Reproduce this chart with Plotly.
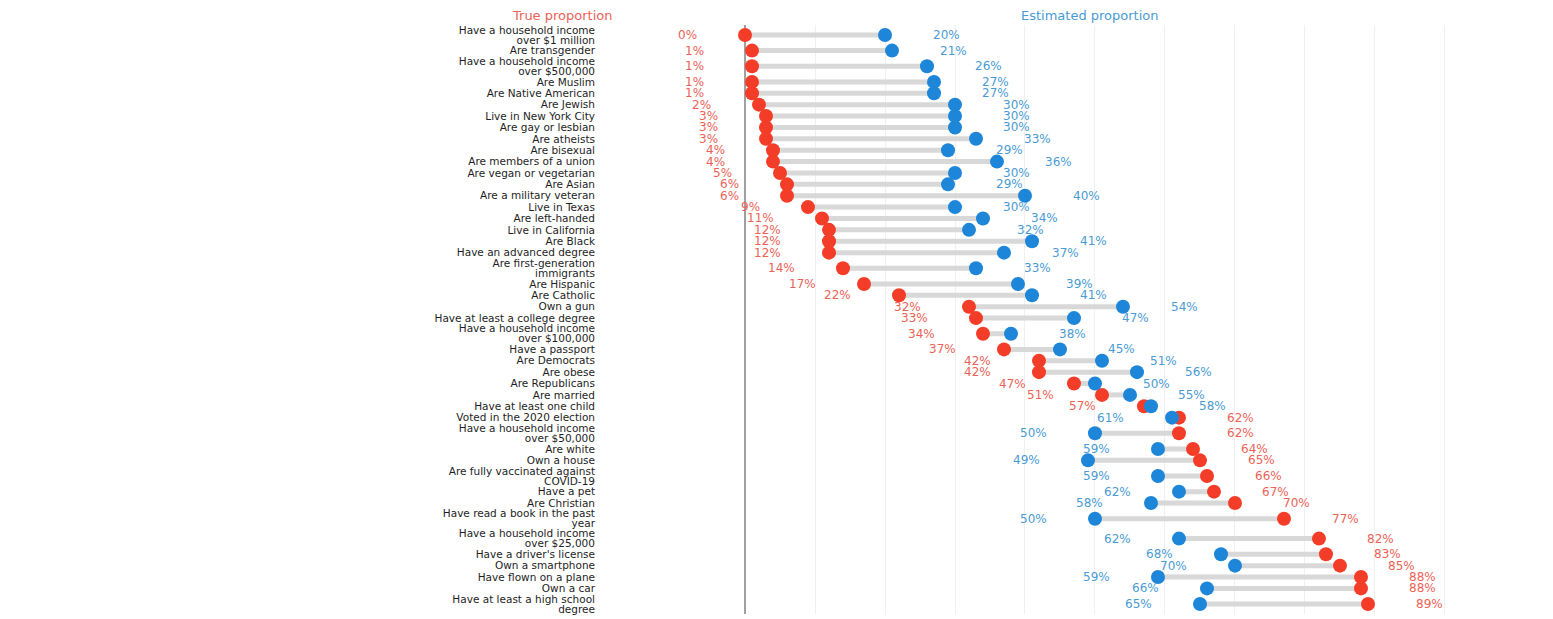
import plotly.graph_objects as go

categories = [
    "Have a household income<br>over $1 million",
    "Are transgender",
    "Have a household income<br>over $500,000",
    "Are Muslim",
    "Are Native American",
    "Are Jewish",
    "Live in New York City",
    "Are gay or lesbian",
    "Are atheists",
    "Are bisexual",
    "Are members of a union",
    "Are vegan or vegetarian",
    "Are Asian",
    "Are a military veteran",
    "Live in Texas",
    "Are left-handed",
    "Live in California",
    "Are Black",
    "Have an advanced degree",
    "Are first-generation<br>immigrants",
    "Are Hispanic",
    "Are Catholic",
    "Own a gun",
    "Have at least a college degree",
    "Have a household income<br>over $100,000",
    "Have a passport",
    "Are Democrats",
    "Are obese",
    "Are Republicans",
    "Are married",
    "Have at least one child",
    "Voted in the 2020 election",
    "Have a household income<br>over $50,000",
    "Are white",
    "Own a house",
    "Are fully vaccinated against<br>COVID-19",
    "Have a pet",
    "Are Christian",
    "Have read a book in the past<br>year",
    "Have a household income<br>over $25,000",
    "Have a driver's license",
    "Own a smartphone",
    "Have flown on a plane",
    "Own a car",
    "Have at least a high school<br>degree",
]

true_pct = [0, 1, 1, 1, 1, 2, 3, 3, 3, 4, 4, 5, 6, 6, 9, 11, 12, 12, 12, 14, 17, 22,
            32, 33, 34, 37, 42, 42, 47, 51, 57, 62, 62, 64, 65, 66, 67, 70, 77, 82,
            83, 85, 88, 88, 89]
est_pct = [20, 21, 26, 27, 27, 30, 30, 30, 33, 29, 36, 30, 29, 40, 30, 34, 32, 41, 37, 33, 39, 41,
           54, 47, 38, 45, 51, 56, 50, 55, 58, 61, 50, 59, 49, 59, 62, 58, 50, 62,
           68, 70, 59, 66, 65]

header_true = "True proportion"
header_est = "Estimated proportion"

RED = "#f43d28"
BLUE = "#1d86d8"
RED_TXT = "#ec6257"
BLUE_TXT = "#4a9bd3"

# row layout: two-line labels get taller rows
row_h = [1.75 if "<br>" in c else 1.0 for c in categories]
centers = []
acc = 0.0
for h in row_h:
    centers.append(acc + h / 2)
    acc += h
total = acc

# tick labels: each text line gets its own tick so lines sit tightly
LINE_OFF = 0.44
tick_pos, tick_txt = [], []
for c, lab in zip(centers, categories):
    lines = lab.split("<br>")
    if len(lines) == 1:
        tick_pos.append(c)
        tick_txt.append(lab)
    else:
        tick_pos += [c - LINE_OFF, c + LINE_OFF]
        tick_txt += lines

# connectors
cx, cy = [], []
for t, e, c in zip(true_pct, est_pct, centers):
    cx += [t, e, None]
    cy += [c, c, None]

fig = go.Figure()
fig.add_trace(go.Scatter(x=cx, y=cy, mode="lines",
                         line=dict(color="#d8d8d8", width=5),
                         hoverinfo="skip", showlegend=False))
fig.add_trace(go.Scatter(x=true_pct, y=centers, mode="markers", name=header_true,
                         marker=dict(color=RED, size=14), showlegend=False))
fig.add_trace(go.Scatter(x=est_pct, y=centers, mode="markers", name=header_est,
                         marker=dict(color=BLUE, size=14), showlegend=False))

annotations = []
GAP = 46
for t, e, c in zip(true_pct, est_pct, centers):
    red_left = t < e
    annotations.append(dict(x=t, y=c, xref="x", yref="y", text=f"{t}%", showarrow=False,
                            xanchor="right" if red_left else "left",
                            xshift=-GAP if red_left else GAP,
                            font=dict(color=RED_TXT, size=12, family="DejaVu Sans")))
    annotations.append(dict(x=e, y=c, xref="x", yref="y", text=f"{e}%", showarrow=False,
                            xanchor="left" if red_left else "right",
                            xshift=GAP if red_left else -GAP,
                            font=dict(color=BLUE_TXT, size=12, family="DejaVu Sans")))

annotations.append(dict(x=-0.04, y=1.0, xref="paper", yref="paper", text=header_true,
                        showarrow=False, xanchor="center", yanchor="bottom", yshift=0,
                        font=dict(color=RED_TXT, size=13, family="DejaVu Sans")))
annotations.append(dict(x=0.514, y=1.0, xref="paper", yref="paper", text=header_est,
                        showarrow=False, xanchor="center", yanchor="bottom", yshift=0,
                        font=dict(color=BLUE_TXT, size=13, family="DejaVu Sans")))

fig.update_layout(
    width=1545, height=611,
    margin=dict(l=592, r=0, t=17, b=5),
    plot_bgcolor="white", paper_bgcolor="white",
    showlegend=False,
    annotations=annotations,
    xaxis=dict(range=[-20.714, 115.43], tickvals=list(range(0, 101, 10)),
               showticklabels=False, ticks="", showgrid=True, gridcolor="#f0f0f0",
               gridwidth=1, zeroline=True, zerolinecolor="#a0a0a0", zerolinewidth=2,
               fixedrange=True),
    yaxis=dict(range=[total, 0], tickvals=tick_pos, ticktext=tick_txt,
               showgrid=False, zeroline=False, ticks="", ticklabelstandoff=4,
               ticklabeloverflow="allow",
               tickfont=dict(size=10.5, color="#1e1e1e", family="DejaVu Sans"),
               fixedrange=True),
)

fig.write_html("out.html")
